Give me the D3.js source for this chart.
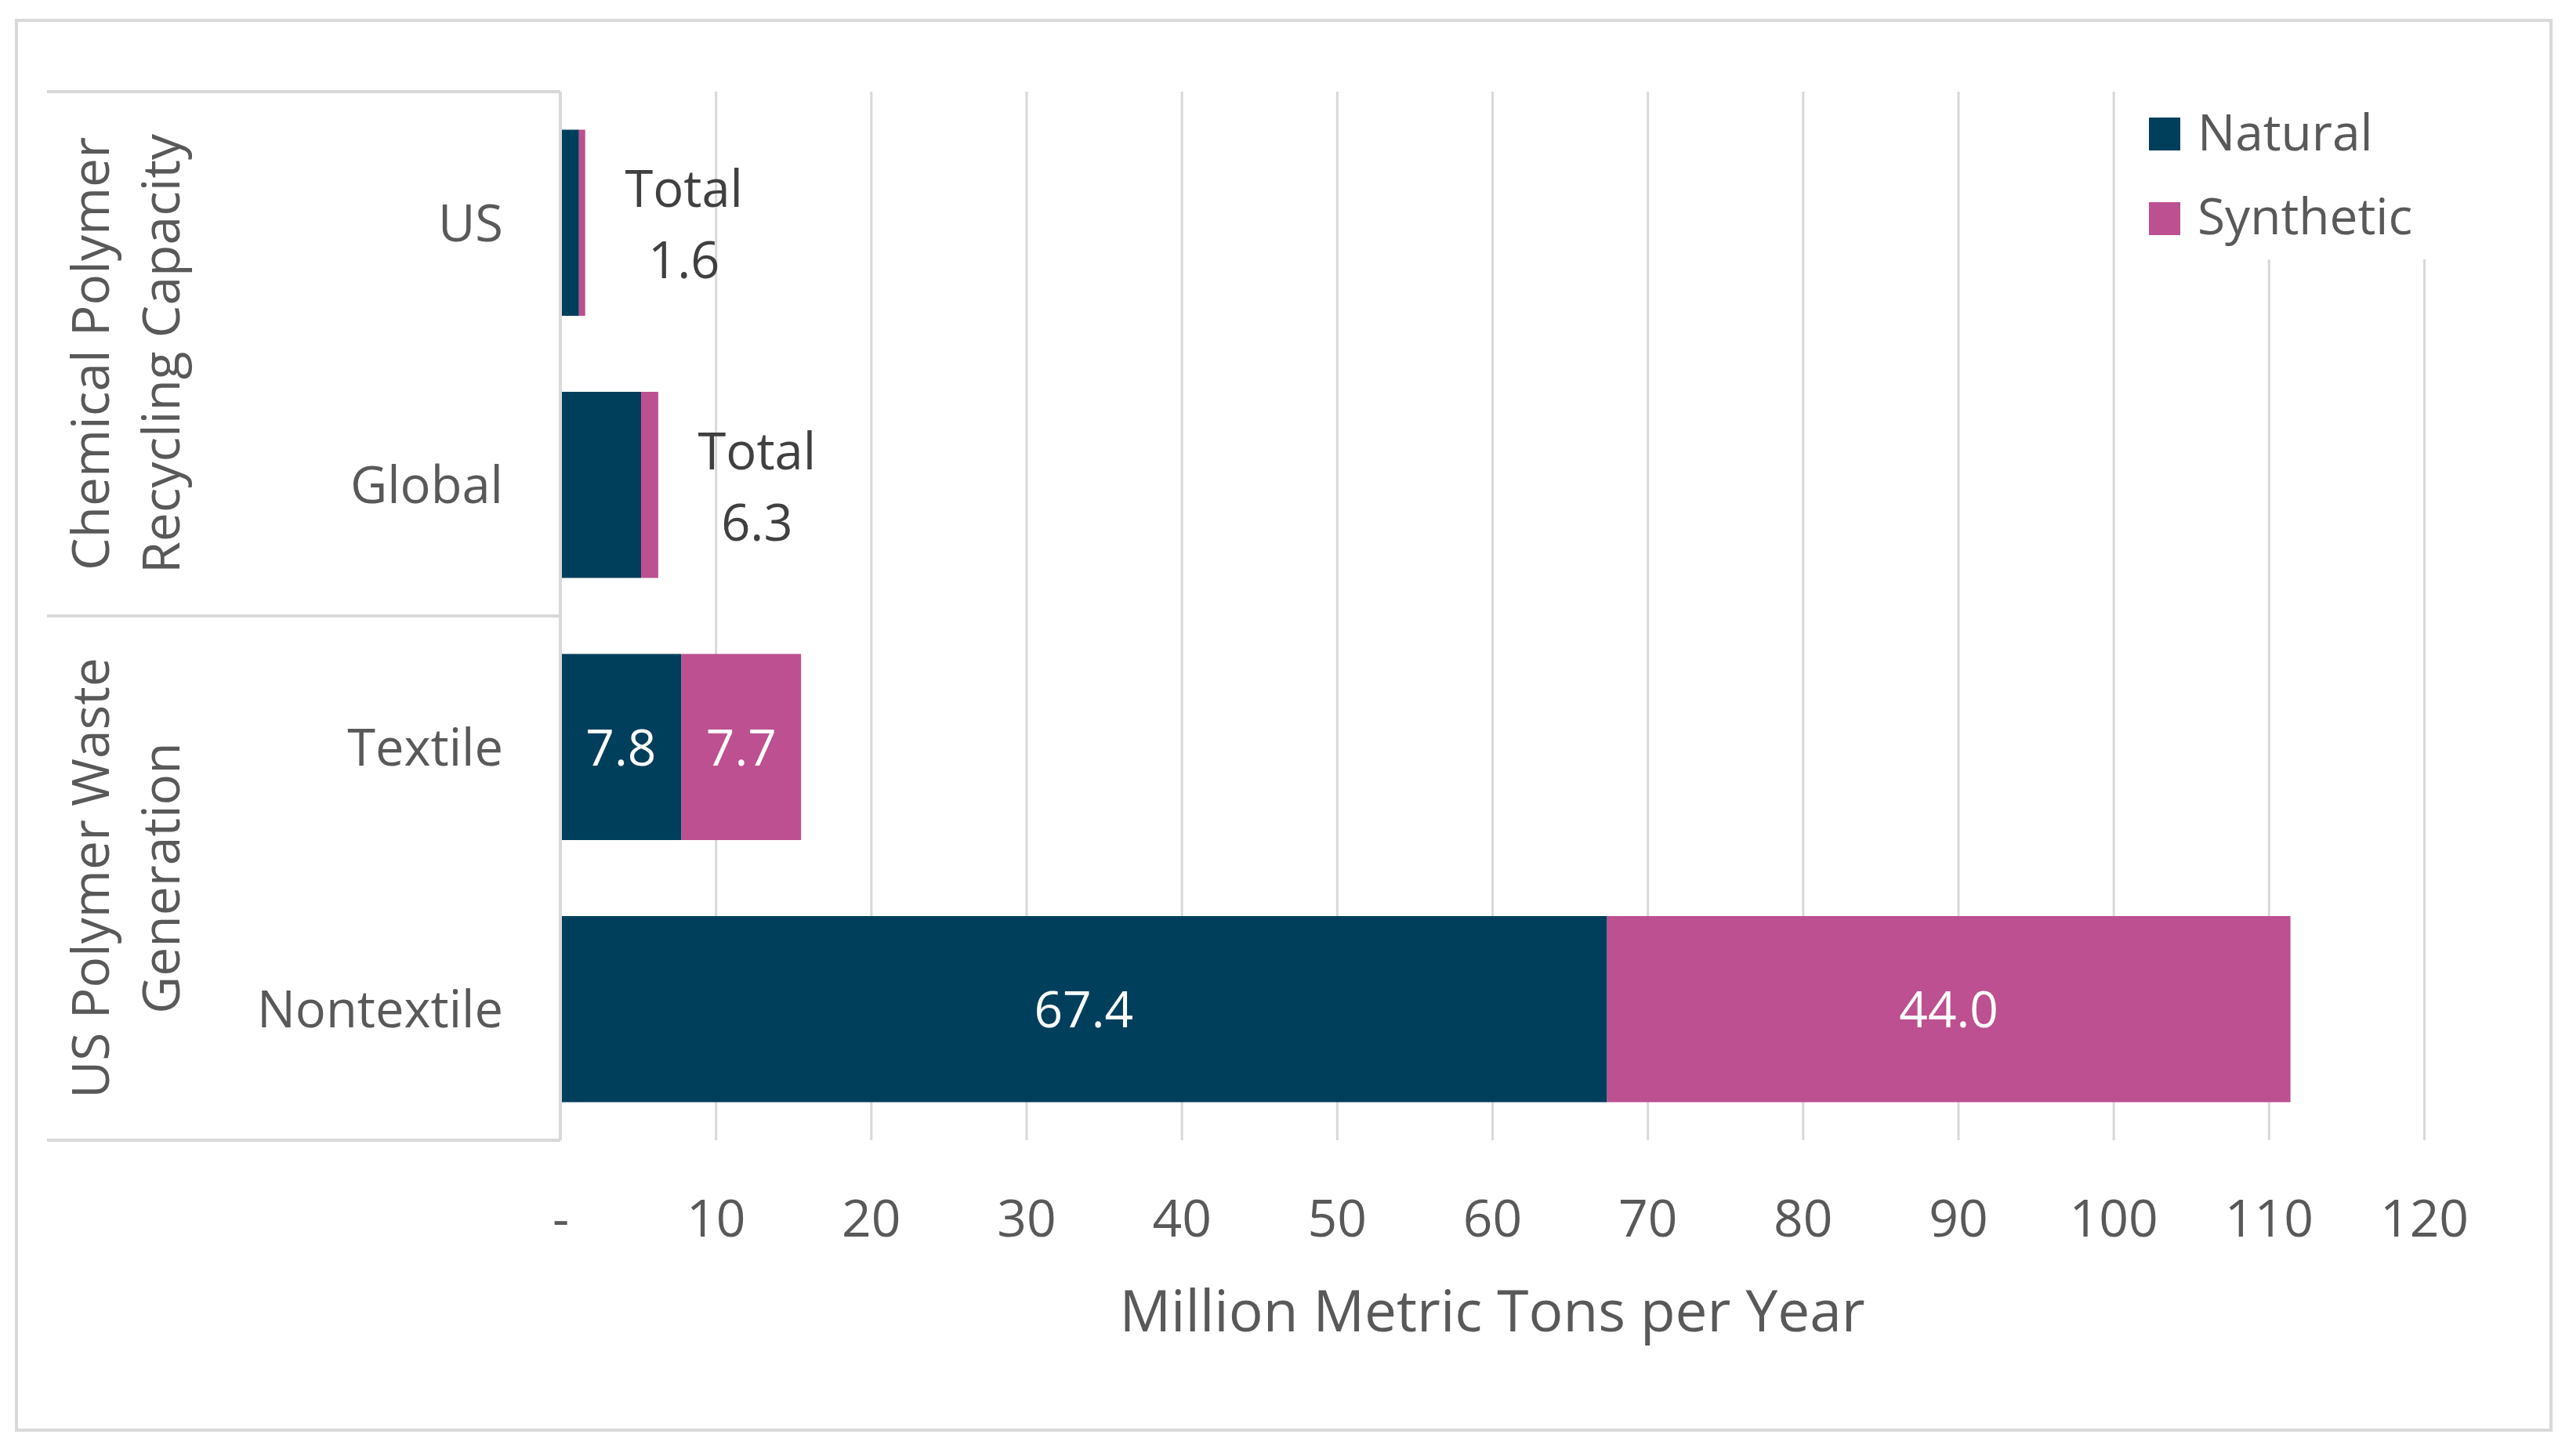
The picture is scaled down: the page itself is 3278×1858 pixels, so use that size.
<!DOCTYPE html>
<html>
<head>
    <meta charset="utf-8">
    <title>Polymer waste generation vs chemical recycling capacity</title>
    <script src="https://d3js.org/d3.v7.min.js"></script>
    <style>
        body {
            margin: 0;
            background: white;
            font-family: 'Open Sans', sans-serif;
        }
        .grid line {
            stroke: #d9d9d9;
            stroke-width: 3px;
        }
        .cat-line {
            stroke: #d9d9d9;
            stroke-width: 4px;
        }
        .tick-label, .cat-label, .group-label, .axis-title, .legend-label {
            fill: #595959;
        }
    </style>
</head>
<body>
    <svg id="chart" width="3278" height="1858"></svg>

    <script>
        // data
        const categories = ['US', 'Global', 'Textile', 'Nontextile'];
        const natural = [1.2, 5.2, 7.8, 67.4];
        const synthetic = [0.4, 1.1, 7.7, 44.0];
        const totalLabel = [true, true, false, false];   // "Total x.x" beside bar
        const segmentLabel = [false, false, true, true]; // values inside segments
        const groupNames = [['Chemical Polymer', 'Recycling Capacity'], ['US Polymer Waste', 'Generation']];
        const groupMembers = [['US', 'Global'], ['Textile', 'Nontextile']];
        const seriesNames = ['Natural', 'Synthetic'];
        const seriesColors = ['#003f5c', '#bc5090'];
        const xTicks = [0, 10, 20, 30, 40, 50, 60, 70, 80, 90, 100, 110, 120];
        const xTickLabels = ['-', '10', '20', '30', '40', '50', '60', '70', '80', '90', '100', '110', '120'];

        const margin = {top: 117, right: 185, bottom: 403, left: 715};
        const width = 3278 - margin.left - margin.right;
        const height = 1858 - margin.top - margin.bottom;

        const svg = d3.select('#chart');

        // outer chart border
        svg.append('rect')
            .attr('x', 21).attr('y', 26)
            .attr('width', 3234).attr('height', 1799)
            .attr('fill', 'white')
            .attr('stroke', '#d9d9d9')
            .attr('stroke-width', 4);

        const g = svg.append('g')
            .attr('transform', `translate(${margin.left},${margin.top})`);

        const x = d3.scaleLinear()
            .domain([0, 120])
            .range([0, width]);
        const y = d3.scaleBand()
            .domain(categories)
            .range([0, height])
            .paddingInner(0.29)
            .paddingOuter(0.145);

        // gridlines
        g.append('g')
            .attr('class', 'grid')
            .attr('transform', `translate(0,${height})`)
            .call(d3.axisBottom(x).tickValues(xTicks).tickSize(-height).tickFormat(''))
            .call(s => s.select('.domain').remove());

        // x tick labels
        const xAxis = g.append('g')
            .attr('transform', `translate(0,${height})`)
            .call(d3.axisBottom(x).tickValues(xTicks).tickSize(0)
                .tickFormat((d, i) => xTickLabels[i]));
        xAxis.select('.domain').remove();
        xAxis.selectAll('text')
            .attr('class', 'tick-label')
            .attr('y', 123)
            .attr('dy', 0)
            .style('font-family', "'Open Sans', sans-serif")
            .style('font-size', '66px');

        svg.append('text')
            .attr('class', 'axis-title')
            .attr('x', margin.left + width / 2)
            .attr('y', 1699)
            .attr('text-anchor', 'middle')
            .style('font-size', '73px')
            .text('Million Metric Tons per Year');

        // legend box hides the gridlines behind it
        const legend = svg.append('g');
        legend.append('rect')
            .attr('x', 2715).attr('y', 113)
            .attr('width', 400).attr('height', 218)
            .attr('fill', 'white');
        seriesNames.forEach((name, i) => {
            legend.append('rect')
                .attr('x', 2742).attr('y', 150 + i * 108)
                .attr('width', 40).attr('height', 42)
                .attr('fill', seriesColors[i]);
            legend.append('text')
                .attr('class', 'legend-label')
                .attr('x', 2804).attr('y', 192 + i * 107)
                .style('font-size', '64px')
                .text(name);
        });

        // stacked bars
        const rows = categories.map((c, i) => ({cat: c, nat: natural[i], syn: synthetic[i], i: i}));
        rows.forEach(d => {
            const parts = [[0, d.nat], [d.nat, d.nat + d.syn]];
            parts.forEach((p, k) => {
                g.append('rect')
                    .attr('x', x(p[0]))
                    .attr('y', y(d.cat))
                    .attr('width', x(p[1]) - x(p[0]))
                    .attr('height', y.bandwidth())
                    .attr('fill', seriesColors[k]);
                if (segmentLabel[d.i]) {
                    g.append('text')
                        .attr('x', (x(p[0]) + x(p[1])) / 2)
                        .attr('y', y(d.cat) + y.bandwidth() / 2)
                        .attr('dy', '0.37em')
                        .attr('text-anchor', 'middle')
                        .attr('fill', 'white')
                        .style('font-size', '64px')
                        .text((p[1] - p[0]).toFixed(1));
                }
            });
            if (totalLabel[d.i]) {
                const cx = x(d.nat + d.syn) + 126;
                const cy = y(d.cat) + y.bandwidth() / 2;
                g.append('text')
                    .attr('x', cx).attr('y', cy - 20)
                    .attr('text-anchor', 'middle')
                    .attr('fill', '#404040')
                    .style('font-size', '65px')
                    .text('Total');
                g.append('text')
                    .attr('x', cx).attr('y', cy + 71)
                    .attr('text-anchor', 'middle')
                    .attr('fill', '#404040')
                    .style('font-size', '65px')
                    .text((d.nat + d.syn).toFixed(1));
            }
        });

        // category labels
        g.append('g')
            .call(d3.axisLeft(y).tickSize(0).tickPadding(73))
            .call(s => s.select('.domain').remove())
            .selectAll('text')
            .attr('class', 'cat-label')
            .attr('dy', '0.36em')
            .style('font-family', "'Open Sans', sans-serif")
            .style('font-size', '65px');

        // multi-level category axis lines
        const gap = y.step() - y.bandwidth();
        g.append('line')
            .attr('class', 'cat-line')
            .attr('x1', 0).attr('x2', 0)
            .attr('y1', 0).attr('y2', height);
        groupMembers.forEach((m, gi) => {
            const top = y(m[0]) - gap / 2;
            const bot = y(m[m.length - 1]) + y.bandwidth() + gap / 2;
            [top, bot].forEach(v => {
                g.append('line')
                    .attr('class', 'cat-line')
                    .attr('x1', 60 - margin.left).attr('x2', 0)
                    .attr('y1', v).attr('y2', v);
            });
            const mid = (top + bot) / 2;
            groupNames[gi].forEach((line, li) => {
                g.append('text')
                    .attr('class', 'group-label')
                    .attr('transform', `translate(${139 + li * 90 - margin.left},${mid}) rotate(-90)`)
                    .attr('text-anchor', 'middle')
                    .style('font-size', '66px')
                    .text(line);
            });
        });
    </script>
</body>
</html>
